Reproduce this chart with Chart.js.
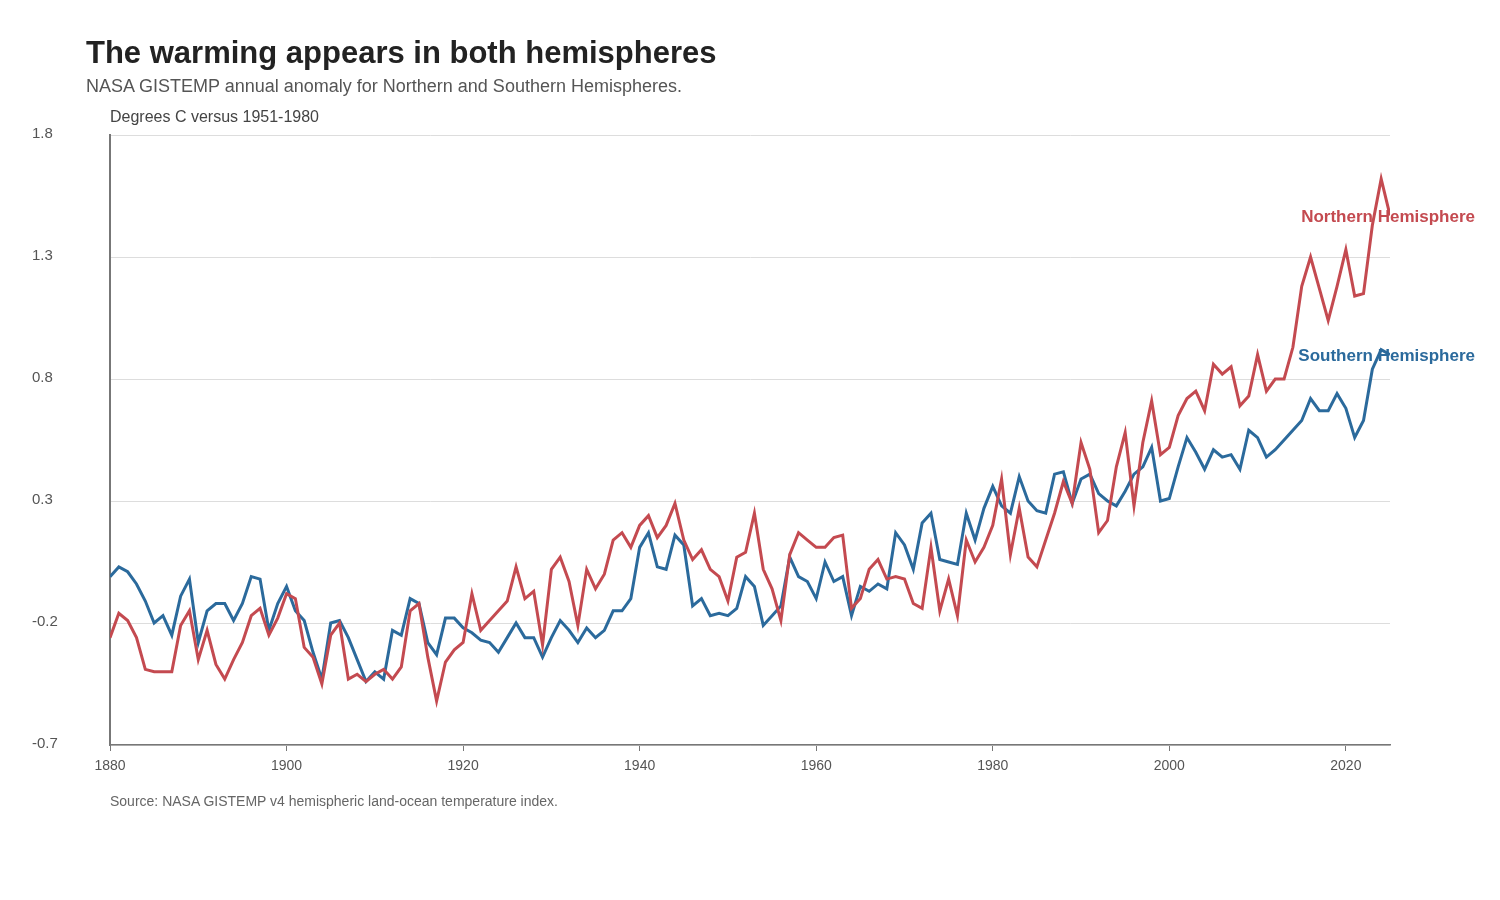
<!DOCTYPE html>
<html>
<head>
<meta charset="utf-8">
<script src="https://cdn.jsdelivr.net/npm/chart.js@4.4.1/dist/chart.umd.min.js"></script>
<style>
  html, body { margin: 0; padding: 0; background: #ffffff; }
  body { width: 1500px; height: 900px; position: relative; overflow: hidden; font-family: "Liberation Sans", Arial, sans-serif; }
  #wrap { position: absolute; left: 0; top: 0; width: 1500px; height: 900px; }
  .txt { position: absolute; white-space: nowrap; }
  #title { left: 86px; top: 37px; font-size: 31px; line-height: 31px; font-weight: bold; color: #222222; }
  #subtitle { left: 86px; top: 77px; font-size: 18px; line-height: 18px; color: #555555; }
  #unit { left: 110px; top: 109px; font-size: 16px; line-height: 16px; color: #444444; }
  #source { left: 110px; top: 794px; font-size: 14px; line-height: 14px; color: #666666; }
</style>
</head>
<body>
<div id="wrap"><canvas id="c" width="1500" height="900"></canvas></div>
<div class="txt" id="title">The warming appears in both hemispheres</div>
<div class="txt" id="subtitle">NASA GISTEMP annual anomaly for Northern and Southern Hemispheres.</div>
<div class="txt" id="unit">Degrees C versus 1951-1980</div>
<div class="txt" id="source">Source: NASA GISTEMP v4 hemispheric land-ocean temperature index.</div>
<script>
const firstYear = 1880;
const lastYear = 2025;
const years = Array.from({length: lastYear - firstYear + 1}, (_, i) => firstYear + i);

const northern = [
  -0.26,-0.16,-0.19,-0.26,-0.39,-0.40,-0.40,-0.40,-0.21,-0.15,
  -0.35,-0.23,-0.37,-0.43,-0.35,-0.28,-0.17,-0.14,-0.25,-0.18,
  -0.08,-0.10,-0.30,-0.34,-0.45,-0.25,-0.20,-0.43,-0.41,-0.44,
  -0.41,-0.39,-0.43,-0.38,-0.15,-0.12,-0.34,-0.52,-0.36,-0.31,
  -0.28,-0.08,-0.23,-0.19,-0.15,-0.11,0.03,-0.10,-0.07,-0.29,
  0.02,0.07,-0.03,-0.21,0.02,-0.06,0.00,0.14,0.17,0.11,
  0.20,0.24,0.15,0.20,0.29,0.14,0.06,0.10,0.02,-0.01,
  -0.11,0.07,0.09,0.25,0.02,-0.06,-0.19,0.08,0.17,0.14,
  0.11,0.11,0.15,0.16,-0.14,-0.10,0.02,0.06,-0.02,-0.01,
  -0.02,-0.12,-0.14,0.11,-0.15,-0.02,-0.17,0.14,0.05,0.11,
  0.20,0.39,0.08,0.27,0.07,0.03,0.14,0.25,0.38,0.29,
  0.54,0.43,0.17,0.22,0.44,0.58,0.28,0.54,0.71,0.49,
  0.52,0.65,0.72,0.75,0.67,0.86,0.82,0.85,0.69,0.73,
  0.90,0.75,0.80,0.80,0.93,1.18,1.30,1.17,1.04,1.18,
  1.33,1.14,1.15,1.43,1.62,1.47
];

const southern = [
  -0.01,0.03,0.01,-0.04,-0.11,-0.20,-0.17,-0.25,-0.09,-0.02,
  -0.28,-0.15,-0.12,-0.12,-0.19,-0.12,-0.01,-0.02,-0.23,-0.12,
  -0.05,-0.15,-0.19,-0.32,-0.43,-0.20,-0.19,-0.26,-0.35,-0.44,
  -0.40,-0.43,-0.23,-0.25,-0.10,-0.12,-0.28,-0.33,-0.18,-0.18,
  -0.22,-0.24,-0.27,-0.28,-0.32,-0.26,-0.20,-0.26,-0.26,-0.34,
  -0.26,-0.19,-0.23,-0.28,-0.22,-0.26,-0.23,-0.15,-0.15,-0.10,
  0.11,0.17,0.03,0.02,0.16,0.12,-0.13,-0.10,-0.17,-0.16,
  -0.17,-0.14,-0.01,-0.05,-0.21,-0.17,-0.13,0.07,-0.01,-0.03,
  -0.10,0.05,-0.03,-0.01,-0.17,-0.05,-0.07,-0.04,-0.06,0.17,
  0.12,0.02,0.21,0.25,0.06,0.05,0.04,0.25,0.14,0.27,
  0.36,0.28,0.25,0.40,0.30,0.26,0.25,0.41,0.42,0.29,
  0.39,0.41,0.33,0.30,0.28,0.34,0.41,0.44,0.52,0.30,
  0.31,0.44,0.56,0.50,0.43,0.51,0.48,0.49,0.43,0.59,
  0.56,0.48,0.51,0.55,0.59,0.63,0.72,0.67,0.67,0.74,
  0.68,0.56,0.63,0.84,0.92,0.90
];

const seriesNames = ["Northern Hemisphere", "Southern Hemisphere"];
const xTicks = [1880, 1900, 1920, 1940, 1960, 1980, 2000, 2020];
const yTicks = [-0.7, -0.2, 0.3, 0.8, 1.3, 1.8];

const colors = { north: "#c44a50", south: "#2b6a9c" };
const FONT = "'Liberation Sans', Arial, sans-serif";

const endLabels = {
  id: 'endLabels',
  afterDatasetsDraw(chart) {
    const ctx = chart.ctx;
    const ys = chart.scales.y;
    ctx.save();
    ctx.font = "bold 17px " + FONT;
    ctx.textAlign = 'right';
    ctx.textBaseline = 'middle';
    chart.data.datasets.forEach((ds) => {
      const last = ds.data[ds.data.length - 1];
      ctx.fillStyle = ds.borderColor;
      ctx.fillText(ds.label, 1475, ys.getPixelForValue(last.y) + 1.5);
    });
    ctx.restore();
  }
};

new Chart(document.getElementById('c'), {
  type: 'line',
  data: {
    datasets: [
      {
        label: seriesNames[0],
        data: years.map((yr, i) => ({x: yr, y: northern[i]})),
        borderColor: colors.north,
        backgroundColor: colors.north,
        borderWidth: 3,
        pointRadius: 0,
        tension: 0
      },
      {
        label: seriesNames[1],
        data: years.map((yr, i) => ({x: yr, y: southern[i]})),
        borderColor: colors.south,
        backgroundColor: colors.south,
        borderWidth: 3,
        pointRadius: 0,
        tension: 0
      }
    ]
  },
  options: {
    responsive: false,
    animation: false,
    devicePixelRatio: 1,
    layout: { padding: { left: 32, right: 110, top: 135, bottom: 115 } },
    plugins: {
      legend: { display: false },
      tooltip: { enabled: false },
      title: { display: false }
    },
    scales: {
      x: {
        type: 'linear',
        min: firstYear,
        max: lastYear,
        afterBuildTicks: (s) => { s.ticks = xTicks.map(v => ({value: v})); },
        afterFit: (s) => { s.height = 40; },
        grid: { drawOnChartArea: false, drawTicks: true, tickLength: 6, color: '#777777', lineWidth: 1 },
        border: { display: true, color: '#777777', width: 1.5 },
        ticks: {
          color: '#555555',
          font: { family: FONT, size: 14 },
          padding: 7,
          maxRotation: 0,
          callback: (v) => String(v)
        }
      },
      y: {
        type: 'linear',
        min: -0.7,
        max: 1.8,
        afterBuildTicks: (s) => { s.ticks = yTicks.map(v => ({value: v})); },
        afterFit: (s) => { s.width = 78; },
        grid: { drawTicks: false, color: '#dddddd', lineWidth: 1 },
        border: { display: true, color: '#777777', width: 2 },
        ticks: {
          color: '#555555',
          font: { family: FONT, size: 15 },
          crossAlign: 'far',
          padding: 0,
          labelOffset: -1,
          callback: (v) => Number(v).toFixed(1)
        }
      }
    }
  },
  plugins: [endLabels]
});
</script>
</body>
</html>
